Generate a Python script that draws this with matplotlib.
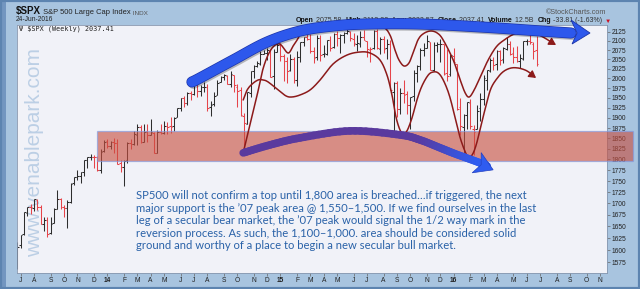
#!/usr/bin/env python3

import numpy as np
import pandas as pd
import matplotlib
matplotlib.use("Agg")
import matplotlib.pyplot as plt
import matplotlib.patheffects as pe
from matplotlib.collections import LineCollection
from matplotlib.colors import to_rgb
from matplotlib.patches import Rectangle, Polygon
from matplotlib.ticker import NullLocator

plt.rcParams["font.family"] = ["Liberation Sans", "DejaVu Sans"]

W, H = 640, 289

# $SPX weekly bars, first bar is the week ending 2013-06-28
first_week = "2013-06-28"
opens = [
    # 2013
    1588.8, 1609.8, 1634.2, 1679.6, 1692.1, 1690.3, 1708.0, 1692.4, 1655.3, 1664.3,
    1635.9, 1657.4, 1688.0, 1709.9, 1691.7, 1690.5, 1703.2, 1744.7, 1759.4, 1762.0,
    1771.0, 1798.2, 1804.8, 1806.6, 1806.6, 1775.4, 1819.0,
    # 2014
    1842.6, 1832.3, 1842.3, 1837.9, 1791.0, 1782.7, 1798.0, 1838.8, 1836.8, 1857.7,
    1878.3, 1841.1, 1867.7, 1859.2, 1863.9, 1816.1, 1865.8, 1863.6, 1879.5, 1880.0,
    1880.1, 1902.0, 1923.9, 1949.4, 1937.2, 1962.9, 1960.8, 1985.3, 1967.7, 1978.7,
    1978.3, 1926.0, 1933.4, 1958.4, 1991.0, 2004.1, 2007.2, 1986.0, 2009.1, 1978.8,
    1970.0, 1905.7, 1885.6, 1962.0, 2018.2, 2032.0, 2038.3, 2064.7, 2065.8, 2074.8,
    2005.0, 2069.3,
    # 2015
    2087.6, 2058.9, 2046.1, 2020.8, 2050.4, 1996.7, 2055.5, 2096.5, 2110.9, 2105.2,
    2072.3, 2055.4, 2108.6, 2064.1, 2064.9, 2102.9, 2082.0, 2119.3, 2108.4, 2115.6,
    2122.3, 2125.3, 2105.2, 2092.3, 2091.3, 2110.6, 2098.6, 2075.3, 2080.0, 2126.8,
    2078.2, 2104.5, 2080.0, 2091.6, 1965.2, 1986.7, 1921.5, 1963.1, 1960.8, 1932.2,
    1954.3, 2013.7, 2033.5, 2075.1, 2080.8, 2096.6, 2022.1, 2088.8, 2090.9, 2090.4,
    2013.4, 2010.3, 2057.8,
    # 2016
    2038.2, 1926.1, 1877.4, 1906.3, 1936.9, 1873.3, 1871.4, 1924.4, 1947.1, 1996.1,
    2019.3, 2047.6, 2037.9, 2073.2, 2050.2, 2078.8, 2091.6, 2067.2, 2057.6, 2046.5,
    2052.2, 2100.4, 2099.7, 2091.8, 2075.6,
]
highs = [
    1615.9, 1632.1, 1680.2, 1693.1, 1698.8, 1709.7, 1709.2, 1696.8, 1669.5, 1669.5,
    1670.1, 1689.0, 1729.9, 1711.0, 1696.6, 1707.0, 1745.3, 1759.8, 1775.2, 1771.5,
    1798.2, 1804.8, 1813.6, 1810.0, 1808.4, 1823.8, 1844.9,
    1849.4, 1843.2, 1850.8, 1849.3, 1798.8, 1798.0, 1841.7, 1847.5, 1867.9, 1883.6,
    1882.4, 1884.0, 1884.1, 1897.3, 1865.1, 1869.6, 1884.9, 1891.3, 1889.1, 1902.2,
    1901.3, 1924.0, 1949.4, 1955.6, 1963.9, 1968.2, 1985.6, 1985.3, 1984.0, 1991.4,
    1984.6, 1942.9, 1964.0, 1994.8, 2005.0, 2011.2, 2007.7, 2019.3, 2009.1, 1985.2,
    1977.8, 1912.1, 1965.3, 2018.2, 2034.3, 2046.2, 2071.5, 2075.8, 2079.5, 2077.0,
    2077.9, 2093.6,
    2093.6, 2064.4, 2056.9, 2064.6, 2057.6, 2072.4, 2097.0, 2110.6, 2119.6, 2117.5,
    2083.5, 2114.9, 2114.9, 2089.8, 2102.6, 2111.9, 2120.9, 2125.9, 2117.7, 2123.9,
    2134.7, 2126.2, 2121.9, 2115.0, 2126.7, 2129.9, 2100.0, 2083.0, 2128.9, 2132.8,
    2110.6, 2112.7, 2105.4, 2102.7, 1990.2, 1993.5, 1975.0, 1996.0, 1967.0, 1953.0,
    2020.9, 2034.0, 2079.7, 2094.3, 2116.5, 2097.0, 2097.1, 2095.6, 2104.3, 2090.4,
    2076.7, 2067.6, 2081.6,
    2038.2, 1950.3, 1908.9, 1940.2, 1947.2, 1881.6, 1930.7, 1963.0, 2009.1, 2022.4,
    2052.4, 2056.6, 2075.1, 2074.0, 2083.2, 2111.1, 2099.9, 2083.4, 2084.9, 2065.0,
    2100.5, 2105.3, 2120.6, 2096.1, 2113.3,
]
lows = [
    1560.3, 1604.6, 1632.6, 1672.7, 1676.0, 1684.3, 1684.9, 1654.2, 1639.4, 1627.5,
    1633.4, 1657.4, 1687.0, 1687.1, 1670.4, 1646.5, 1700.7, 1740.5, 1752.7, 1746.2,
    1761.6, 1780.0, 1799.8, 1779.4, 1772.3, 1767.9, 1818.0,
    1827.7, 1823.7, 1815.5, 1790.3, 1770.5, 1737.9, 1791.8, 1824.6, 1834.4, 1834.4,
    1839.6, 1841.1, 1842.2, 1857.6, 1814.4, 1815.8, 1859.7, 1859.8, 1859.8, 1862.4,
    1868.8, 1901.3, 1915.9, 1925.8, 1930.9, 1944.7, 1958.2, 1952.9, 1955.6, 1965.8,
    1916.4, 1904.8, 1928.3, 1958.4, 1991.0, 1995.0, 1984.4, 1978.5, 1964.8, 1926.0,
    1905.0, 1820.7, 1883.8, 1951.4, 2001.0, 2030.2, 2034.5, 2064.0, 2049.6, 2002.3,
    1972.6, 2069.3,
    2046.0, 1992.4, 1988.1, 2019.5, 1989.2, 1980.9, 2041.9, 2085.4, 2103.1, 2066.2,
    2039.7, 2048.4, 2045.3, 2056.7, 2061.0, 2072.4, 2081.2, 2085.7, 2067.9, 2093.3,
    2117.9, 2099.2, 2085.7, 2072.1, 2084.0, 2101.0, 2056.6, 2044.0, 2076.6, 2077.1,
    2063.5, 2067.9, 2052.1, 1970.9, 1867.0, 1903.1, 1910.2, 1938.0, 1908.8, 1871.9,
    1942.3, 1990.7, 2022.0, 2059.8, 2080.8, 2022.6, 2019.4, 2070.3, 2042.4, 2008.3,
    1993.3, 2005.9, 2043.6,
    1918.5, 1857.8, 1812.3, 1872.7, 1872.7, 1810.1, 1871.4, 1891.0, 1931.8, 1969.3,
    2017.1, 2022.5, 2022.3, 2033.8, 2039.7, 2075.4, 2060.9, 2039.5, 2043.1, 2025.9,
    2047.0, 2088.2, 2090.1, 2050.4, 2032.6,
]
closes = [
    1606.3, 1631.9, 1680.2, 1692.1, 1691.7, 1709.7, 1691.4, 1655.8, 1663.5, 1633.0,
    1655.2, 1688.0, 1709.9, 1691.8, 1690.5, 1703.2, 1744.5, 1759.8, 1761.6, 1770.6,
    1798.2, 1804.8, 1805.8, 1805.1, 1775.3, 1818.3, 1841.4,
    1831.4, 1842.4, 1838.7, 1790.3, 1782.6, 1797.0, 1838.6, 1836.3, 1859.5, 1878.0,
    1841.1, 1866.5, 1857.6, 1865.1, 1815.7, 1864.9, 1863.4, 1881.1, 1878.5, 1877.9,
    1900.5, 1923.6, 1949.4, 1936.2, 1962.9, 1961.0, 1985.4, 1967.6, 1978.2, 1978.3,
    1925.2, 1931.6, 1955.1, 1988.4, 2003.4, 2007.7, 1985.5, 2010.4, 1982.9, 1967.9,
    1906.1, 1886.8, 1964.6, 2018.1, 2031.9, 2039.8, 2063.5, 2067.6, 2075.4, 2002.3,
    2070.7, 2088.8,
    2058.2, 2044.8, 2019.4, 2051.8, 1995.0, 2055.5, 2097.0, 2110.3, 2104.5, 2071.3,
    2053.4, 2108.1, 2061.0, 2067.0, 2102.1, 2081.2, 2117.7, 2108.3, 2116.1, 2122.7,
    2126.1, 2107.4, 2092.8, 2094.1, 2110.0, 2101.5, 2076.8, 2076.6, 2126.6, 2079.7,
    2103.8, 2077.6, 2091.5, 1970.9, 1988.9, 1921.2, 1961.1, 1958.0, 1931.3, 1951.4,
    2014.9, 2033.1, 2075.2, 2079.4, 2099.2, 2023.0, 2089.2, 2090.1, 2091.7, 2012.4,
    2005.6, 2061.0, 2043.9,
    1922.0, 1880.3, 1906.9, 1940.2, 1880.1, 1864.8, 1917.8, 1948.1, 2000.0, 2022.2,
    2049.6, 2035.9, 2072.8, 2047.6, 2080.7, 2091.6, 2065.3, 2057.1, 2046.6, 2052.3,
    2099.1, 2099.1, 2096.1, 2071.2, 2037.4,
]
price_levels = list(range(1575, 2150, 25))

# support zone, in week number / price
band_weeks = [23.8, 184.9]
band_prices = [1796.7, 1868.0]

# hand-drawn markup, as week number / price
top_arrow_weeks = [52.4, 54.8, 64.8, 75.0, 84.9, 94.8, 105.0, 120.9, 139.3, 157.3, 166.3]
top_arrow_prices = [1990.6, 2000.9, 2048.3, 2096.7, 2126.9, 2140.8, 2146.4, 2146.4,
                    2138.0, 2126.9, 2121.4]
top_head_weeks = [166.3, 172.0, 166.6, 168.1]
top_head_prices = [2157.6, 2121.4, 2091.3, 2121.4]

low_arrow_weeks = [67.8, 75.9, 84.9, 99.9, 114.9, 120.9, 127.0, 131.5, 138.1, 141.1]
low_arrow_prices = [1815.4, 1834.4, 1851.1, 1868.0, 1858.3, 1846.3, 1827.2, 1813.1,
                    1794.4, 1784.7]
low_head_weeks = [139.3, 142.9, 136.6, 139.3]
low_head_prices = [1816.0, 1775.8, 1769.0, 1787.7]

outer_weeks = [67.8, 69.9, 72.0, 73.5, 75.0, 76.5, 78.0, 79.2, 81.3, 82.8, 84.0, 85.8,
               90.0, 96.9, 105.0, 109.8, 111.9, 113.4, 114.6, 116.1, 117.6, 118.8,
               120.3, 121.8, 124.0, 126.1, 127.9, 130.9, 133.0, 134.5, 135.7, 137.2,
               139.3, 141.4, 143.8, 146.2, 149.2, 151.9, 155.2, 157.3, 159.4, 160.3,
               161.8]
outer_prices = [1815.4, 1884.8, 1957.3, 2016.6, 2056.3, 2080.5, 2091.3, 2088.6, 2067.0,
                2085.9, 2102.2, 2126.9, 2143.6, 2146.4, 2146.4, 2138.0, 2115.9, 2075.1,
                2048.3, 2032.4, 2040.3, 2067.0, 2102.2, 2118.7, 2126.9, 2121.4, 2102.2,
                2048.3, 1995.8, 1962.4, 1952.2, 1970.1, 2008.7, 2048.3, 2083.2, 2102.2,
                2118.7, 2124.2, 2121.4, 2113.2, 2102.2, 2096.7, 2088.6]
inner_weeks = [67.8, 69.0, 70.5, 72.3, 73.8, 75.3, 78.3, 80.7, 82.5, 84.9, 87.9, 90.9,
               94.8, 99.0, 102.9, 105.9, 108.9, 111.0, 112.5, 113.7, 114.9, 115.8,
               117.0, 118.5, 120.0, 121.5, 123.4, 124.9, 126.4, 127.9, 129.7, 131.5,
               133.0, 134.5, 135.4, 136.6, 137.8, 139.3, 140.8, 142.3, 144.4, 146.2,
               148.3, 150.4, 152.5, 154.0, 154.6, 155.8]
inner_prices = [1944.6, 1970.1, 1985.4, 1995.8, 1995.8, 1990.6, 1970.1, 1954.7, 1952.2,
                1957.3, 1970.1, 1995.8, 2037.7, 2061.6, 2069.7, 2067.0, 2048.3, 2008.7,
                1957.3, 1902.2, 1870.4, 1862.0, 1868.0, 1899.5, 1944.6, 1980.2, 2008.7,
                2016.6, 2014.0, 1995.8, 1957.3, 1899.5, 1851.1, 1817.8, 1806.0, 1810.7,
                1834.4, 1882.6, 1932.1, 1975.2, 2003.5, 2019.2, 2027.1, 2027.1, 2021.8,
                2014.0, 2008.7, 2000.9]

note = ("SP500 will not confirm a top until 1,800 area is breached…if triggered, the next\n"
        "major support is the ’07 peak area @ 1,550–1,500. If we find ourselves in the last\n"
        "leg of a secular bear market, the ’07 peak would signal the 1/2 way mark in the\n"
        "reversion process. As such, the 1,100–1,000. area should be considered solid\n"
        "ground and worthy of a place to begin a new secular bull market.")

title_parts = [("$SPX", 7.0, "bold", "#111"), (" S&P 500 Large Cap Index", 5.4, "normal", "#222"),
               (" INDX", 4.6, "normal", "#555")]
header_parts = [("Open", "bold"), (" 2075.58  ", "normal"), ("High", "bold"),
                (" 2113.32  ", "normal"), ("Low", "bold"), (" 2032.57  ", "normal"),
                ("Close", "bold"), (" 2037.41  ", "normal"), ("Volume", "bold"),
                (" 12.5B  ", "normal"), ("Chg", "bold"), (" -33.81 (-1.63%) ", "normal")]


def smooth(xs, ys, n=10):
    # Catmull-Rom through the control points, in (week, log price) space
    pts = np.column_stack([xs, np.log(ys)])
    pts = np.vstack([pts[0], pts, pts[-1]])
    t = np.linspace(0, 1, n, endpoint=False)[:, None]
    out = []
    for k in range(1, len(pts) - 2):
        p0, p1, p2, p3 = pts[k - 1:k + 3]
        out.append(0.5 * (2 * p1 + (p2 - p0) * t
                          + (2 * p0 - 5 * p1 + 4 * p2 - p3) * t ** 2
                          + (3 * p1 - p0 - 3 * p2 + p3) * t ** 3))
    out.append(pts[-2][None])
    out = np.vstack(out)
    return out[:, 0], np.exp(out[:, 1])


def chain(parts, x, y):
    # lay text pieces end to end, starting at figure pixel (x, y)
    prev = None
    for txt, size, weight, color in parts:
        kw = dict(fontsize=size, fontweight=weight, color=color, va="bottom",
                  annotation_clip=False, zorder=1)
        if prev is None:
            prev = ax.annotate(txt, xy=(x / W, 1 - y / H), xycoords="figure fraction", **kw)
        else:
            prev = ax.annotate(txt, xy=(1, 0), xycoords=prev, **kw)
    return prev


fig = plt.figure(figsize=(W / 100, H / 100), dpi=100, facecolor="#a8c4df")
fig.add_artist(Rectangle((0, 0), 6 / W, 1, transform=fig.transFigure,
                         facecolor="#7396c0", edgecolor="none"))
fig.add_artist(Rectangle((0, 0), 1, 1, transform=fig.transFigure, fill=False,
                         edgecolor="#5d84b0", lw=3))

ax = fig.add_axes([17 / W, 16 / H, 590 / W, 248.5 / H], facecolor="#f1f2f8")

# OHLC bars, red when the week closed lower
n = len(closes)
prev_close = np.r_[opens[0], closes[:-1]]
segs, cols = [], []
for i in range(n):
    c = "#2e2e2e" if closes[i] >= prev_close[i] else "#e6444a"
    segs += [[(i, lows[i]), (i, highs[i])],
             [(i - 0.5, opens[i]), (i, opens[i])],
             [(i, closes[i]), (i + 0.5, closes[i])]]
    cols += [c] * 3
ax.add_collection(LineCollection(segs, colors=cols, linewidths=0.75, zorder=2))

ax.set_yscale("log")
ax.set_xlim(-0.15, 177.1)
ax.set_ylim(1553, 2145)

ax.yaxis.tick_right()
ax.set_yticks(price_levels)
ax.set_yticklabels([str(v) for v in price_levels])
ax.yaxis.set_minor_locator(NullLocator())
ax.tick_params(axis="y", length=2, width=0.5, color="#666", labelsize=4.8,
               labelcolor="#222", pad=1.2)

start = pd.Timestamp(first_week)
months = pd.date_range("2013-07-01", "2016-11-01", freq="MS")
month_pos, month_lab = [], []
for m in months:
    first_friday = m + pd.Timedelta(days=(4 - m.weekday()) % 7)
    month_pos.append((first_friday - start).days / 7)
    month_lab.append(m.strftime("%y") if m.month == 1 else m.strftime("%b")[0])
ax.set_xticks(month_pos)
ax.set_xticklabels(month_lab)
ax.tick_params(axis="x", length=2, width=0.5, color="#666", labelsize=4.8,
               labelcolor="#222", pad=1.0)
for lab, m in zip(ax.get_xticklabels(), months):
    if m.month == 1:
        lab.set_fontweight("bold")
for sp in ax.spines.values():
    sp.set_color("#8797ae")
    sp.set_linewidth(0.6)

# watermark
ax.text(0.0305, 0.483, "www.venablepark.com", transform=ax.transAxes, rotation=90,
        ha="center", va="center", fontsize=15, color="#bccfe5", zorder=1)

# support zone, running out over the price scale
ax.add_patch(Rectangle((band_weeks[0], band_prices[0]), band_weeks[1] - band_weeks[0],
                       band_prices[1] - band_prices[0], facecolor="#c84f3f", alpha=0.62,
                       edgecolor="#7d9de8", lw=0.9, zorder=3, clip_on=False))

# red outline of the topping pattern
red = "#8c1a1a"
for wk, pr in [(outer_weeks, outer_prices), (inner_weeks, inner_prices)]:
    sx, sy = smooth(wk[:-1], pr[:-1])
    ax.plot(sx, sy, color=red, lw=1.1, zorder=4, solid_capstyle="round")
    ax.annotate("", xy=(wk[-1], pr[-1]), xytext=(sx[-1], sy[-1]), zorder=4,
                arrowprops=dict(arrowstyle="-|>,head_length=0.7,head_width=0.4",
                                mutation_scale=6, color=red, lw=1.0,
                                shrinkA=0, shrinkB=0))

# purple-to-blue arrow under the pattern
sx, sy = smooth(low_arrow_weeks, low_arrow_prices)
pts = np.column_stack([sx, sy])
lsegs = np.stack([pts[:-1], pts[1:]], axis=1)
t = np.clip((np.linspace(0, 1, len(lsegs)) - 0.55) / 0.35, 0, 1)[:, None]
c0, c1 = np.array(to_rgb("#5a3a9e")), np.array(to_rgb("#2f5cf0"))
ax.add_collection(LineCollection(lsegs, colors=c0 + (c1 - c0) * t, linewidths=5.5,
                                 capstyle="round", zorder=5))
ax.add_patch(Polygon(np.column_stack([low_head_weeks, low_head_prices]), closed=True,
                     facecolor="#2f5cf0", edgecolor="#2340c0", lw=0.5, zorder=5))

# big blue arrow over the top
sx, sy = smooth(top_arrow_weeks, top_arrow_prices)
ax.plot(sx, sy, color="#2d58ec", lw=7.0, zorder=6, clip_on=False,
        solid_capstyle="round",
        path_effects=[pe.SimpleLineShadow(offset=(1, -1.5), alpha=0.25),
                      pe.Stroke(linewidth=8.0, foreground="#1c34a8"), pe.Normal()])
ax.add_patch(Polygon(np.column_stack([top_head_weeks, top_head_prices]), closed=True,
                     facecolor="#2d58ec", edgecolor="#1c34a8", lw=0.6, zorder=6,
                     clip_on=False))

# titles and quote line
chain(title_parts, 16, 16)
fig.text(16 / W, 1 - 21 / H, "24-Jun-2016", fontsize=4.8, color="#222")
fig.text(606 / W, 1 - 14 / H, "©StockCharts.com", fontsize=5.2, color="#555", ha="right")
ax.text(19 / W, 1 - 31 / H, "Ψ $SPX (Weekly) 2037.41", transform=fig.transFigure,
        fontsize=4.9, family="DejaVu Sans Mono", color="#222", zorder=7)

last = chain([(txt, 5.0, wt, "#111" if wt == "bold" else "#333")
              for txt, wt in header_parts], 296, 24)
ax.annotate("▼", xy=(1, 0), xycoords=last, fontsize=4.5, color="#cc1122", va="bottom",
            annotation_clip=False, zorder=1)

fig.text(136 / W, 1 - 190 / H, note, fontsize=8.1, family="Lato", color="#2a62a8",
         va="top", ha="left", linespacing=1.18)

fig.savefig("out.png", dpi=100, facecolor=fig.get_facecolor())
